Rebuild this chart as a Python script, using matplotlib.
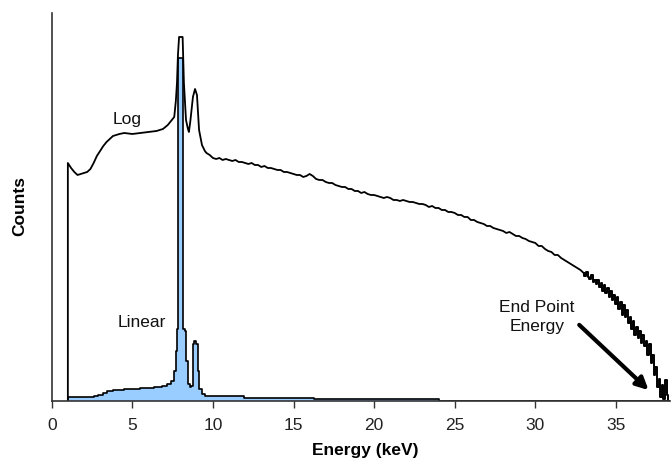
import matplotlib
matplotlib.use("Agg")
import matplotlib.pyplot as plt
import numpy as np

plt.rcParams['font.family'] = ['Liberation Sans', 'DejaVu Sans']

# "Log" spectrum, low-energy part (keV, counts in arbitrary units)
log_energy_low = [1.0, 1.0, 1.2, 1.4, 1.6, 1.8, 2.0, 2.2, 2.4, 2.6, 2.8, 3.0, 3.2, 3.4,
                  3.6, 3.8, 4.0, 4.2, 4.5, 5.0, 5.5, 6.0, 6.5, 6.9, 7.2, 7.45, 7.6, 7.7,
                  7.77, 7.83, 7.9, 8.12, 8.2, 8.33, 8.45, 8.51, 8.6, 8.76, 8.89, 9.01,
                  9.14, 9.32, 9.5]
log_counts_low = [0, 238, 233, 229, 226, 227, 228, 229, 232, 238, 245, 250, 255, 259,
                  262, 265, 266, 267, 268, 267, 268, 269, 270, 272, 276, 281, 284, 300,
                  318, 346, 364, 364, 318, 281, 272, 269, 280, 304, 312, 306,
                  271, 256, 250]

# "Log" spectrum, continuum from 9.6 keV in 0.2 keV channels
log_counts_mid = [248, 246, 243, 242, 243, 241, 242, 241, 240, 241, 239, 239, 238, 237,
                  238, 236, 236, 234, 235, 233, 233, 232, 231, 231, 229, 229, 228, 227,
                  226, 226, 224, 225, 227, 225, 222, 221, 221, 219, 218, 218, 216, 215,
                  214, 214, 212, 212, 210, 210, 208, 209, 207, 206, 206, 205, 204, 203,
                  204, 203, 201, 201, 200, 201, 200, 199, 199, 198, 197, 197, 196, 194,
                  195, 193, 193, 191, 191, 189, 189, 188, 186, 186, 184, 184, 181, 181,
                  179, 178, 177, 175, 175, 173, 172, 171, 170, 168, 169, 167, 165, 165,
                  163, 162, 160, 159, 158, 155, 155, 152, 150, 149, 146, 146, 143, 141,
                  139, 137, 135, 133, 131]

# "Log" spectrum tail from 33.0 keV in 0.1 keV channels
log_counts_tail = [128, 125, 129, 124, 122, 126, 119, 121, 117, 121, 114, 118, 110, 116,
                   108, 113, 104, 110, 101, 106, 97, 104, 92, 99, 86, 96, 84, 91, 78, 84,
                   72, 80, 66, 74, 63, 70, 58, 66, 55, 60, 46, 57, 38, 46, 26, 34, 14, 22,
                   4, 16, 2, 21, 6, 0]

# "Linear" spectrum
lin_energy = [1.0, 1.0, 2.0, 2.5, 2.8, 3.0, 3.3, 3.6, 4.0, 5.0, 6.0, 6.7, 7.0, 7.3, 7.5,
              7.65, 7.75, 7.82, 7.9, 8.0, 8.12, 8.2, 8.3, 8.4, 8.5, 8.6, 8.7, 8.8, 8.9,
              9.0, 9.1, 9.2, 9.4, 9.6, 10.0, 11.0, 11.8, 12.0, 14.0, 16.2, 16.4, 20.0,
              24.0, 24.1, 38.3]
lin_counts = [0, 4, 4, 4, 5, 6, 8, 10, 11, 12, 13, 14, 15, 17, 20,
              30, 50, 72, 343, 343, 343, 72, 70, 40, 17, 14, 15, 57, 60,
              57, 30, 12, 7, 5, 5, 5, 5, 3, 3, 3, 1.5, 1.5,
              1.5, 0, 0]

x_ticks = [0, 5, 10, 15, 20, 25, 30, 35]

mid_energy = 9.6 + 0.2 * np.arange(len(log_counts_mid))
tail_energy = 33.0 + 0.1 * np.arange(len(log_counts_tail))

fig = plt.figure(figsize=(6.71, 4.59), dpi=100)
ax = fig.add_axes([0.0771, 0.1264, 0.9215, 0.8453])

# linear spectrum: filled light blue with black outline
ax.fill_between(lin_energy, lin_counts, step='mid', color='#99ccff', lw=0)
ax.plot(lin_energy, lin_counts, drawstyle='steps-mid', color='black', lw=1.2)

# log spectrum: noisy line, histogram steps in the tail
ax.plot(np.r_[log_energy_low, mid_energy, tail_energy[0]],
        np.r_[log_counts_low, log_counts_mid, log_counts_tail[0]],
        color='black', lw=1.3)
ax.plot(tail_energy, log_counts_tail, drawstyle='steps-mid', color='black', lw=1.4)

ax.set_xlim(0, 38.36)
ax.set_ylim(0, 388)
ax.set_xticks(x_ticks)
ax.set_yticks([])
ax.tick_params(axis='x', direction='out', length=5, width=1, color='#333333',
               labelsize=12.5, labelcolor='#222222', pad=7)
for s in ['top', 'right']:
    ax.spines[s].set_visible(False)
for s in ['left', 'bottom']:
    ax.spines[s].set_color('#333333')
    ax.spines[s].set_linewidth(1.2)

ax.text(4.67, 281, 'Log', fontsize=12.5, ha='center', va='center', color='#111111')
ax.text(5.6, 78, 'Linear', fontsize=12.5, ha='center', va='center', color='#111111')
ax.text(30.1, 84, 'End Point\nEnergy', fontsize=12.5, ha='center', va='center',
        linespacing=1.3, color='#111111')
ax.annotate('', xy=(37.15, 9), xytext=(32.6, 78),
            arrowprops=dict(arrowstyle='-|>', lw=3, color='black', mutation_scale=18))

fig.text(365 / 671, 1 - 451 / 459, 'Energy (keV)', fontsize=12.5, fontweight='bold',
         ha='center', va='center')
fig.text(20 / 671, 1 - 206 / 459, 'Counts', fontsize=12.5, fontweight='bold',
         rotation=90, ha='center', va='center')

fig.savefig('out.png', dpi=100)
